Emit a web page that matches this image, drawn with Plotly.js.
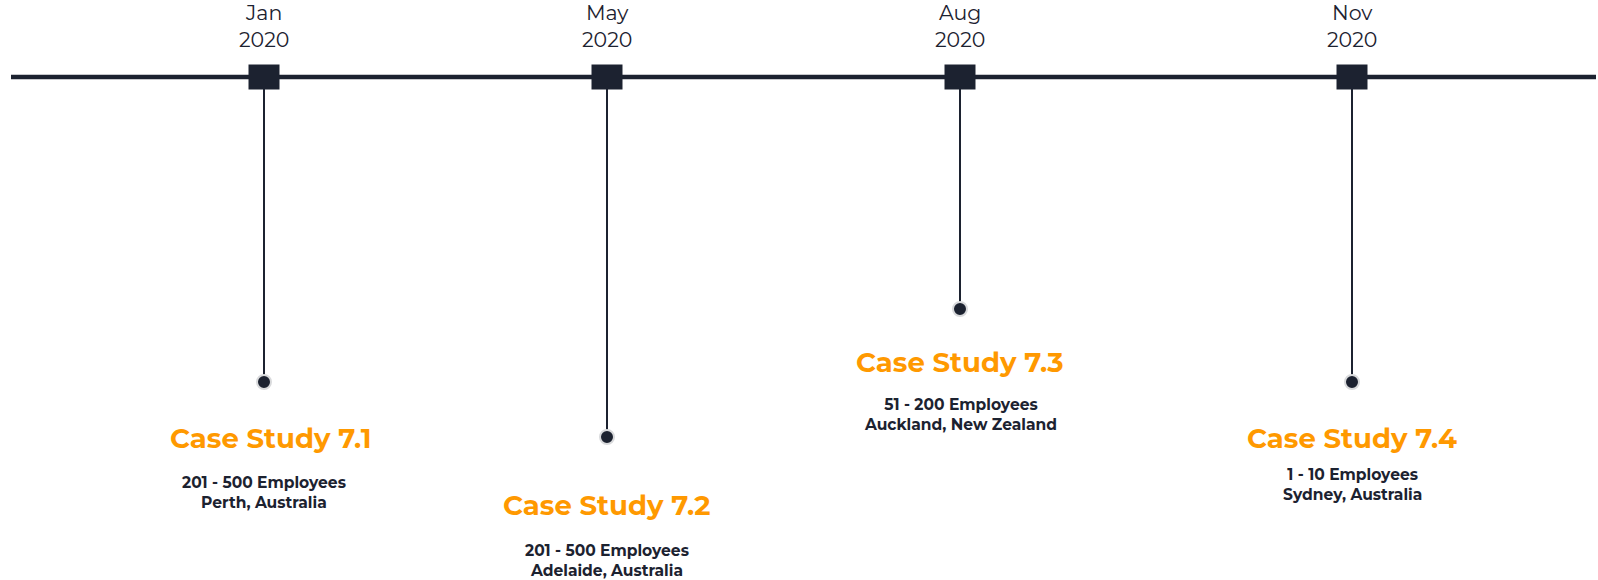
<!DOCTYPE html>
<html>
<head>
<meta charset="utf-8">
<script src="https://cdn.plot.ly/plotly-3.0.1.min.js"></script>
<style>html,body{margin:0;padding:0;background:#fff;overflow:hidden;}#chart{width:1598px;height:580px;}</style>
</head>
<body>
<div id="chart"></div>
<script>
// ---- Data ----
const months = ["Jan", "May", "Aug", "Nov"];
const years = ["2020", "2020", "2020", "2020"];
const xPosition = [264, 607, 960, 1352];
const stemDepth = [382, 437, 309, 382];
const titles = ["Case Study 7.1", "Case Study 7.2", "Case Study 7.3", "Case Study 7.4"];
const sizes = ["201 - 500 Employees", "201 - 500 Employees", "51 - 200 Employees", "1 - 10 Employees"];
const places = ["Perth, Australia", "Adelaide, Australia", "Auckland, New Zealand", "Sydney, Australia"];
const baseline = 77;

// ---- Label layout (offsets in px) ----
const titleOffset = [56, 68, 53, 56];
const titleXShift = [6, 0, 0, 0];
const detailOffset = [54, 55, 52, 46];

const dark = "#1c2230";
const orange = "#ff9900";
const font = "Montserrat, 'DejaVu Sans', sans-serif";

const traces = [];
// stems
xPosition.forEach((x, i) => {
  traces.push({
    x: [x, x], y: [baseline, stemDepth[i]], mode: "lines",
    line: {color: dark, width: 2}, hoverinfo: "skip", showlegend: false
  });
});
// circles
traces.push({
  x: xPosition, y: stemDepth, mode: "markers",
  marker: {symbol: "circle", size: 14, color: dark, line: {color: "#d9dadc", width: 2}},
  hoverinfo: "skip", showlegend: false
});
// rectangular date markers on the timeline
xPosition.forEach((x) => {
  traces.push({
    x: [x - 15.5, x + 15.5], y: [baseline, baseline], mode: "lines",
    line: {color: dark, width: 25}, hoverinfo: "skip", showlegend: false
  });
});

const annotations = [];
xPosition.forEach((x, i) => {
  annotations.push({
    x: x, y: baseline, xref: "x", yref: "y", yshift: 51, showarrow: false,
    text: months[i] + "<br>" + years[i],
    font: {family: font, size: 20.5, color: dark}, xanchor: "center", yanchor: "middle"
  });
  annotations.push({
    x: x, y: stemDepth[i], xref: "x", yref: "y", yshift: -titleOffset[i], xshift: titleXShift[i],
    showarrow: false,
    text: "<b>" + titles[i] + "</b>",
    font: {family: font, size: 27.5, color: orange}, xanchor: "center", yanchor: "middle"
  });
  annotations.push({
    x: x, y: stemDepth[i], xref: "x", yref: "y", yshift: -(titleOffset[i] + detailOffset[i]),
    showarrow: false,
    text: "<b>" + sizes[i] + "<br>" + places[i] + "</b>",
    font: {family: font, size: 15.5, color: dark}, xanchor: "center", yanchor: "middle"
  });
});

const layout = {
  width: 1598, height: 580,
  margin: {l: 0, r: 0, t: 0, b: 0},
  paper_bgcolor: "#fff", plot_bgcolor: "#fff",
  xaxis: {range: [0, 1598], visible: false, fixedrange: true},
  yaxis: {range: [580, 0], visible: false, fixedrange: true},
  shapes: [{
    type: "line", xref: "x", yref: "y", x0: 11, x1: 1596, y0: baseline, y1: baseline,
    line: {color: dark, width: 4.5}, layer: "below"
  }],
  annotations: annotations,
  showlegend: false
};
Plotly.newPlot("chart", traces, layout, {displayModeBar: false, staticPlot: true});
</script>
</body>
</html>
